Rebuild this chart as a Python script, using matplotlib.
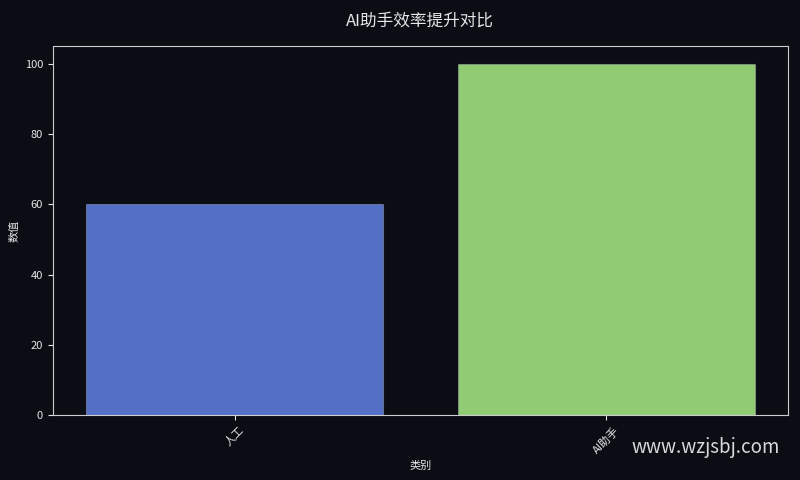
import matplotlib
matplotlib.use("Agg")
import matplotlib.pyplot as plt

categories = ["人工", "AI助手"]
values = [60, 100]
colors = ["#5470c6", "#91cc75"]

plt.rcParams['font.family'] = ['Noto Sans CJK SC', 'DejaVu Sans']
bg = "#0b0d14"
fg = "#e6e6e6"

fig = plt.figure(figsize=(8, 4.8), dpi=100, facecolor=bg)
ax = fig.add_axes([0.066, 0.135, 0.919, 0.769])
ax.set_facecolor(bg)

ax.bar(categories, values, width=0.8, color=colors,
       edgecolor=(1, 1, 1, 0.25), linewidth=0.8)

ax.set_title("AI助手效率提升对比", color=fg, fontsize=12, pad=15)
ax.set_xlabel("类别", color=fg, fontsize=8)
ax.set_ylabel("数值", color=fg, fontsize=8)
ax.tick_params(axis='both', colors=fg, labelsize=8)
ax.tick_params(axis='x', labelrotation=45)
for s in ax.spines.values():
    s.set_color("#cccccc")

fig.text(0.975, 0.067, "www.wzjsbj.com", color="#d9d9d9", fontsize=13.5,
         ha="right", va="center")

fig.savefig("out.png", dpi=100, facecolor=bg)
